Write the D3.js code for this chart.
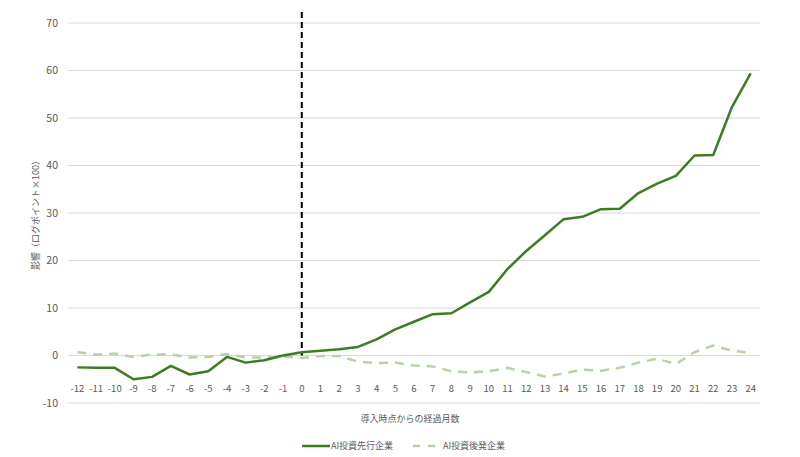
<!DOCTYPE html>
<html>
<head>
<meta charset="utf-8">
<script src="https://cdn.jsdelivr.net/npm/d3@7"></script>
<style>
  body { margin: 0; background: #fff; }
  text { font-family: "Noto Sans CJK JP", "Noto Sans", sans-serif; fill: #595959; }
</style>
</head>
<body>
<svg id="chart" width="800" height="457"></svg>
<script>
const months = d3.range(-12, 25);
const leaders = [-2.5, -2.6, -2.6, -5.0, -4.5, -2.2, -4.0, -3.3, -0.3, -1.5, -1.0, 0.0,
  0.7, 1.0, 1.3, 1.8, 3.4, 5.5, 7.1, 8.7, 8.9, 11.2, 13.4, 18.2, 22.0, 25.3, 28.7,
  29.2, 30.8, 30.9, 34.2, 36.2, 37.8, 42.1, 42.2, 52.3, 59.4];
const followers = [0.7, 0.2, 0.4, -0.3, 0.2, 0.2, -0.4, -0.3, 0.3, -0.4, -0.4, -0.2,
  -0.5, -0.1, -0.1, -1.3, -1.6, -1.5, -2.1, -2.3, -3.3, -3.6, -3.3, -2.6, -3.5, -4.4,
  -3.8, -3.0, -3.2, -2.6, -1.5, -0.7, -1.8, 0.7, 2.1, 1.0, 0.6];
const yTicks = [-10, 0, 10, 20, 30, 40, 50, 60, 70];
const seriesNames = ["AI投資先行企業", "AI投資後発企業"];
const yTitle = "影響（ログポイント×100）";
const xTitle = "導入時点からの経過月数";

const svg = d3.select("#chart");
const margin = {left: 68, right: 40, top: 23, bottom: 54};
const W = 800, H = 457;

const x = d3.scaleBand().domain(months).range([margin.left, W - margin.right]);
const y = d3.scaleLinear().domain([-10, 70]).range([H - margin.bottom, margin.top]);
const cx = m => x(m) + x.bandwidth() / 2;

// gridlines
svg.append("g").selectAll("line").data(yTicks).join("line")
  .attr("x1", margin.left).attr("x2", W - margin.right)
  .attr("y1", d => y(d)).attr("y2", d => y(d))
  .attr("stroke", "#d9d9d9").attr("stroke-width", 1);

// y tick labels
svg.append("g").selectAll("text").data(yTicks).join("text")
  .attr("x", 58).attr("y", d => y(d)).attr("dy", "0.35em")
  .attr("text-anchor", "end").attr("font-size", 10.5)
  .text(d => d);

// x tick labels
svg.append("g").selectAll("text").data(months).join("text")
  .attr("x", d => cx(d)).attr("y", 389).attr("dy", "0.35em")
  .attr("text-anchor", "middle").attr("font-size", 9.5)
  .text(d => d);

// axis titles
svg.append("text").attr("x", 410).attr("y", 419).attr("dy", "0.35em")
  .attr("text-anchor", "middle").attr("font-size", 9).text(xTitle);
svg.append("text")
  .attr("transform", `translate(36,${y(30)}) rotate(-90)`)
  .attr("dy", "0.35em").attr("text-anchor", "middle").attr("font-size", 9)
  .text(yTitle);

// vertical dashed line at month 0
svg.append("line")
  .attr("x1", cx(0)).attr("x2", cx(0))
  .attr("y1", 12).attr("y2", y(0))
  .attr("stroke", "#000").attr("stroke-width", 2)
  .attr("stroke-dasharray", "6,4");

const line = d3.line().x((d, i) => cx(months[i])).y(d => y(d));

svg.append("path").datum(followers)
  .attr("d", line).attr("fill", "none")
  .attr("stroke", "#b5d3a4").attr("stroke-width", 2.5)
  .attr("stroke-dasharray", "9,7");

svg.append("path").datum(leaders)
  .attr("d", line).attr("fill", "none")
  .attr("stroke", "#3b7d23").attr("stroke-width", 2.5)
  .attr("stroke-linejoin", "round");

// legend
const lg = svg.append("g").attr("transform", "translate(0,446)");
lg.append("line").attr("x1", 302).attr("x2", 330).attr("y1", 0).attr("y2", 0)
  .attr("stroke", "#3b7d23").attr("stroke-width", 2.5);
lg.append("text").attr("x", 331).attr("y", 0).attr("dy", "0.35em")
  .attr("font-size", 9).text(seriesNames[0]);
lg.append("line").attr("x1", 413).attr("x2", 440).attr("y1", 0).attr("y2", 0)
  .attr("stroke", "#b5d3a4").attr("stroke-width", 2.5)
  .attr("stroke-dasharray", "7,8");
lg.append("text").attr("x", 443).attr("y", 0).attr("dy", "0.35em")
  .attr("font-size", 9).text(seriesNames[1]);
</script>
</body>
</html>
